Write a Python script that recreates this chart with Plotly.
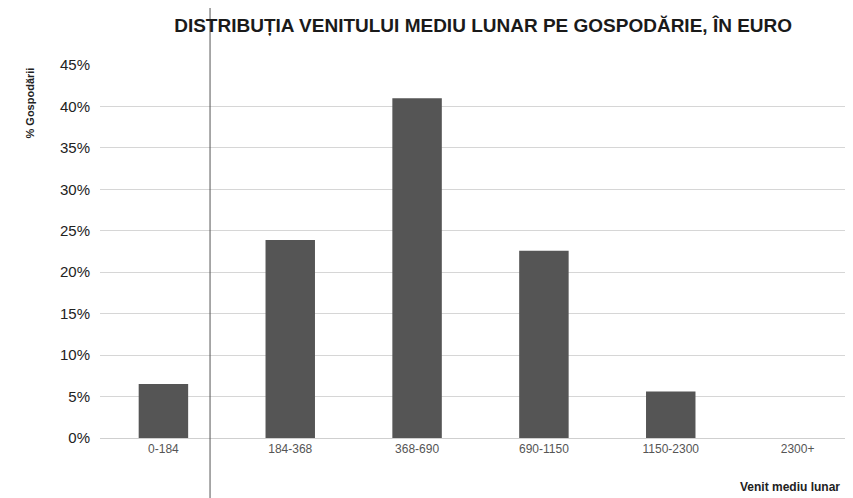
import plotly.graph_objects as go

categories = ["0-184", "184-368", "368-690", "690-1150", "1150-2300", "2300+"]
values = [6.5, 23.9, 41.0, 22.6, 5.6, 0.0]
y_ticks = [0, 5, 10, 15, 20, 25, 30, 35, 40, 45]
y_tick_labels = [f"{v}%" for v in y_ticks]

fig = go.Figure()
fig.add_trace(go.Bar(
    x=categories, y=values,
    marker=dict(color="#555555", line=dict(width=0)),
    width=0.39,
))

fig.update_layout(
    width=853, height=498,
    margin=dict(l=92, r=0, t=57, b=68),
    paper_bgcolor="white", plot_bgcolor="white",
    showlegend=False,
    title=dict(
        text="<b>DISTRIBUȚIA VENITULUI MEDIU LUNAR PE GOSPODĂRIE, ÎN EURO</b>",
        font=dict(family="Liberation Sans Narrow, Arial Narrow, sans-serif", size=19, color="#1a1a1a"),
        x=0.557, xanchor="center", y=0.966, yanchor="middle",
    ),
    xaxis=dict(
        type="category",
        tickfont=dict(family="Liberation Sans Narrow, Arial Narrow, sans-serif", size=12, color="#555"),
        showgrid=False, showline=True, linecolor="#cfcfcf", ticks="", ticklen=0,
    ),
    yaxis=dict(
        range=[0, 45], tickvals=y_ticks, ticktext=y_tick_labels,
        tickfont=dict(family="Liberation Sans, Arial, sans-serif", size=15, color="#222"),
        showgrid=True, gridcolor="#d6d6d6", gridwidth=1, zeroline=False,
        ticks="", ticklabelstandoff=9,
    ),
    annotations=[
        dict(text="<b>% Gospodării</b>", textangle=-90, xref="paper", yref="paper",
             x=-0.092, y=1.0, xanchor="center", yanchor="top", showarrow=False,
             font=dict(family="Liberation Sans Narrow, Arial Narrow, sans-serif", size=11, color="#222")),
        dict(text="<b>Venit mediu lunar</b>", xref="paper", yref="paper",
             x=0.975, y=-0.131, xanchor="right", yanchor="middle", showarrow=False,
             font=dict(family="Liberation Sans Narrow, Arial Narrow, sans-serif", size=12, color="#222")),
    ],
    shapes=[
        dict(type="line", xref="paper", yref="paper", x0=0.1446, x1=0.1446, y0=-0.2, y1=1.2,
             line=dict(color="#555", width=1)),
    ],
)

fig.write_html("out.html")
